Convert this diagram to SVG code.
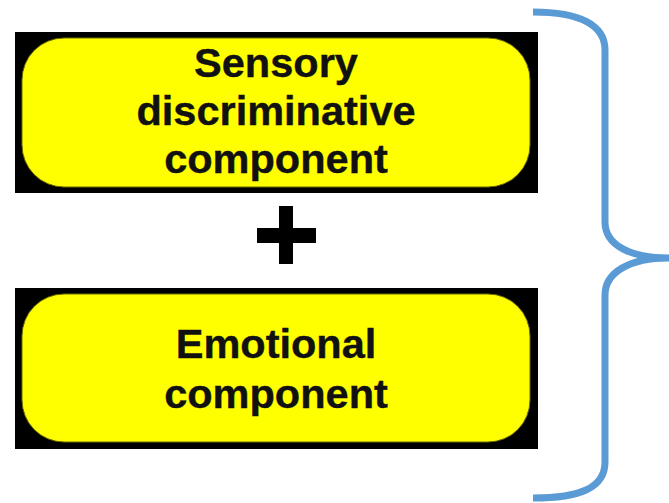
<svg xmlns="http://www.w3.org/2000/svg" width="669" height="503" viewBox="0 0 669 503">
<style>
.frame{fill:#000}
.box{fill:#ffff00;stroke:#6b6b00;stroke-width:1}
.lbl{font-family:"Liberation Sans",Arial,sans-serif;font-weight:bold;font-size:41.5px;fill:#111;stroke:#111;stroke-width:0.4;text-anchor:middle}
.brace{fill:none;stroke:#5b9bd5;stroke-width:7;stroke-linecap:butt}
</style>
<rect width="669" height="503" fill="#fff"/>
<g id="sensory">
<rect class="frame" x="15" y="32" width="523" height="161"/>
<rect class="box" x="22" y="38" width="508" height="149" rx="42" ry="42"/>
<text class="lbl" x="276" y="77">Sensory</text>
<text class="lbl" x="276" y="125">discriminative</text>
<text class="lbl" x="276" y="173">component</text>
</g>
<g id="plus">
<polygon fill="#000" points="279,206 293,206 293,228 316,228 316,243 293,243 293,264 279,264 279,243 257,243 257,228 279,228"/>
</g>
<g id="emotional">
<rect class="frame" x="15" y="288" width="523" height="161"/>
<rect class="box" x="22" y="294" width="508" height="148" rx="42" ry="42"/>
<text class="lbl" x="276" y="358">Emotional</text>
<text class="lbl" x="276" y="408">component</text>
</g>
<g id="connectors">
<path class="brace" d="M533,12 C580,12 605,25 605,50 L605,222 C605,245 630,258 669,258 C630,258 605,272 605,295 L605,462 C605,488 580,498 533,498"/>
</g>
</svg>
